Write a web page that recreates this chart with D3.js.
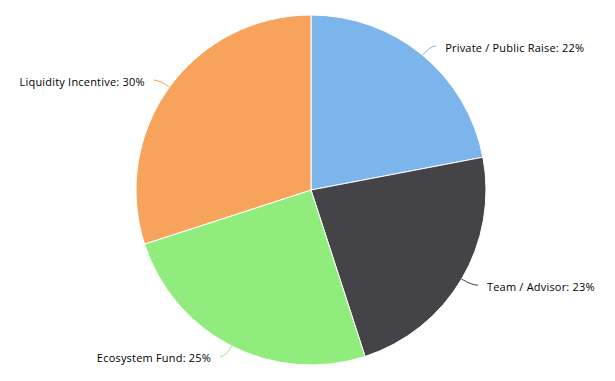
<!doctype html>
<html>
  <head>
    <style>
      body { margin: 0; background: #fff; }
      svg text { font-family: "Open Sans", "Liberation Sans", Arial, sans-serif; font-size: 11px; letter-spacing: 0.2px; fill: #000; }
    </style>
  </head>
  <body>
    <svg id="chart" width="615" height="381"></svg>
    <script src="https://d3js.org/d3.v7.min.js"></script>
    <script>
      // chart data
      const labels = ['Private / Public Raise', 'Team / Advisor', 'Ecosystem Fund', 'Liquidity Incentive'];
      const shares = [22, 23, 25, 30];
      const colors = ['#7cb5ec', '#434348', '#90ed7d', '#f7a35c'];

      const svg = d3.select('#chart');
      const cx = 311, cy = 190, r = 175;
      const g = svg.append('g').attr('transform', `translate(${cx},${cy})`);

      const pie = d3.pie().sort(null).value((d) => d.v);
      const arcs = pie(labels.map((name, i) => ({ name, v: shares[i], c: colors[i] })));
      const arc = d3.arc().innerRadius(0).outerRadius(r);

      g.selectAll('path.slice')
        .data(arcs)
        .enter()
        .append('path')
        .attr('class', 'slice')
        .attr('d', arc)
        .attr('fill', (d) => d.data.c)
        .attr('stroke', '#fff')
        .attr('stroke-width', 1)
        .attr('stroke-linejoin', 'round');

      // labels with soft connectors
      const pt = (a, rad) => [rad * Math.sin(a), -rad * Math.cos(a)];
      arcs.forEach((d) => {
        const mid = (d.startAngle + d.endAngle) / 2;
        const side = Math.sin(mid) >= 0 ? 1 : -1;
        const e = pt(mid, r);
        const a = pt(mid, r + 12);
        const end = [a[0] + side * 6, a[1]];
        g.append('path')
          .attr('d', `M${e[0]},${e[1]} Q${a[0]},${a[1]} ${end[0]},${end[1]}`)
          .attr('fill', 'none')
          .attr('stroke', d.data.c)
          .attr('stroke-width', 1);
        g.append('text')
          .attr('x', a[0] + side * 15)
          .attr('y', a[1] + 2)
          .attr('dy', '0.35em')
          .attr('text-anchor', side > 0 ? 'start' : 'end')
          .text(`${d.data.name}: ${d.data.v}%`);
      });
    </script>
  </body>
</html>
